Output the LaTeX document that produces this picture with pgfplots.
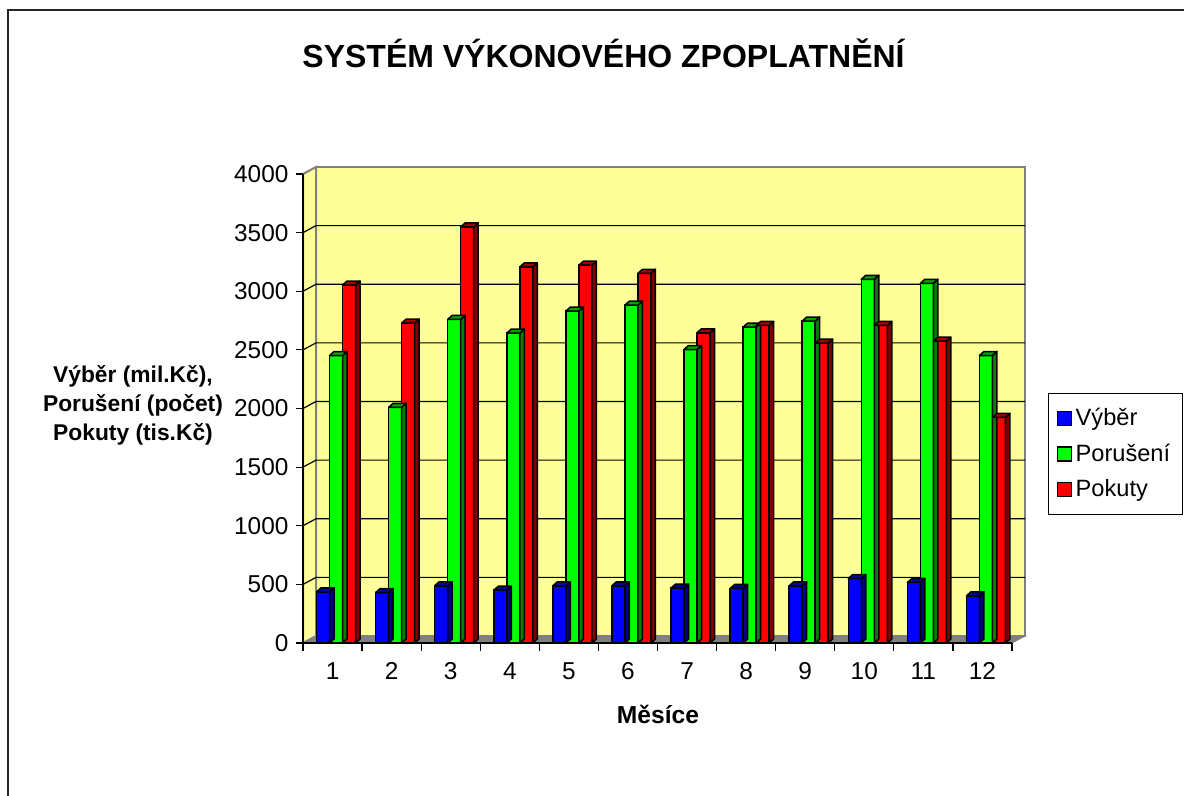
\documentclass[border=0pt]{standalone}
\usepackage{pgfplots}
\usepackage{pgfplotstable}
\pgfplotsset{compat=1.18}
\usepackage{fontspec}
\setmainfont{Liberation Sans}
\definecolor{wall}{HTML}{FFFF99}
\definecolor{edge}{HTML}{808080}
\definecolor{cB}{HTML}{0000FF}
\definecolor{cG}{HTML}{00FF00}
\definecolor{cR}{HTML}{FF0000}
\definecolor{sB}{HTML}{000080}
\definecolor{sG}{HTML}{008000}
\definecolor{sR}{HTML}{800000}
\definecolor{tB}{HTML}{0000A0}
\definecolor{tG}{HTML}{00A000}
\definecolor{tR}{HTML}{A00000}

\newcommand\decomark[4]{%
 \pgfdeclareplotmark{#1}{%
  \pgfmathsetmacro\Hh{\rawy*0.058625}%
  \pgfsetlinewidth{0.75pt}%
  \pgfsetroundjoin
  \pgfsetstrokecolor{black}%
  \pgfsetfillcolor{#4}%
  \pgfpathmoveto{\pgfpoint{#2pt+3.25pt}{0pt}}%
  \pgfpathlineto{\pgfpoint{#2pt+5.5pt}{2pt}}%
  \pgfpathlineto{\pgfpoint{#2pt+5.5pt}{2pt-\Hh pt}}%
  \pgfpathlineto{\pgfpoint{#2pt+3.25pt}{-\Hh pt}}%
  \pgfpathclose
  \pgfusepath{fill,stroke}%
  \pgfsetfillcolor{#3}%
  \pgfpathmoveto{\pgfpoint{#2pt-3.25pt}{0pt}}%
  \pgfpathlineto{\pgfpoint{#2pt+3.25pt}{0pt}}%
  \pgfpathlineto{\pgfpoint{#2pt+5.5pt}{2pt}}%
  \pgfpathlineto{\pgfpoint{#2pt-1pt}{2pt}}%
  \pgfpathclose
  \pgfusepath{fill,stroke}%
 }}
\decomark{decoB}{-4.75}{tB}{sB}
\decomark{decoG}{1.75}{tG}{sG}
\decomark{decoR}{8.25}{tR}{sR}

\pgfplotsset{
  mylegend/.style={legend image code/.code={\draw[##1, draw=black, line width=0.6pt] (0pt,-3.5pt) rectangle (7pt,3.5pt);}},
}

\pgfplotstableread{
m vyb por pok
1 436 2452 3053
2 430 2010 2728
3 488 2760 3549
4 450 2643 3207
5 488 2831 3222
6 488 2882 3153
7 468 2503 2646
8 465 2694 2708
9 488 2746 2557
10 550 3102 2708
11 516 3068 2574
12 402 2452 1924
}\data

\begin{document}
\begin{tikzpicture}
\path (0,0) rectangle (592pt,-398pt);
\draw[overlay, line width=1pt, black!85] (4pt,-420pt) -- (4pt,-5.25pt) -- (620pt,-5.25pt);
\node[anchor=base, font=\bfseries\fontsize{16}{18}\selectfont] at (301.75pt,-34pt) {SYSTÉM VÝKONOVÉHO ZPOPLATNĚNÍ};
\node[align=center, font=\bfseries\fontsize{11.4}{14.5}\selectfont] at (66.5pt,-202.5pt) {Výběr (mil.Kč),\\Porušení (počet)\\Pokuty (tis.Kč)};
\node[anchor=base, font=\bfseries\fontsize{12.3}{14}\selectfont] at (329pt,-361.5pt) {Měsíce};
\begin{axis}[
  set layers,
  at={(151.5pt,-321.5pt)}, anchor=south west,
  scale only axis, width=354.5pt, height=234.5pt,
  xmin=0.5, xmax=12.5, ymin=0, ymax=4000,
  clip=false,
  axis x line*=bottom, axis y line*=left,
  axis line style={black, line width=0.6pt},
  tick style={black, line width=0.6pt},
  tick align=outside,
  major tick length=3.75pt,
  ytick={0,500,...,4000},
  xtick={0.5,1.5,...,12.5},
  x tick label as interval,
  xticklabels={1,2,3,4,5,6,7,8,9,10,11,12},
  xticklabel style={yshift=-2.5pt},
  scaled y ticks=false,
  /pgf/number format/1000 sep={},
  /pgf/number format/assume math mode=true,
  tick label style={font=\fontsize{12.2}{14}\selectfont},
  legend style={at={(1.0508,0.533)}, anchor=north west, draw=black, line width=0.5pt,
    font=\fontsize{11.8}{13}\selectfont, row sep=3.5pt, inner xsep=4pt, inner ysep=5.5pt},
  legend cell align=left,
]
\begin{pgfonlayer}{axis background}
\filldraw[fill=wall, draw=edge, line width=1pt] ([shift={(6.5pt,3.5pt)}]axis cs:0.5,0) rectangle ([shift={(6.5pt,3.5pt)}]axis cs:12.5,4000);
\filldraw[fill=wall, draw=edge, line width=1pt] (axis cs:0.5,0) -- (axis cs:0.5,4000) -- ([shift={(6.5pt,3.5pt)}]axis cs:0.5,4000) -- ([shift={(6.5pt,3.5pt)}]axis cs:0.5,0) -- cycle;
\pgfplotsinvokeforeach{500,1000,1500,2000,2500,3000,3500}{
  \draw[black, line width=0.6pt] (axis cs:0.5,#1) -- ([shift={(6.5pt,3.5pt)}]axis cs:0.5,#1) -- ([shift={(6.5pt,3.5pt)}]axis cs:12.5,#1);
}
\filldraw[fill=edge, draw=edge, line width=0.5pt] (axis cs:0.5,0) -- (axis cs:12.5,0) -- ([shift={(6.5pt,3.5pt)}]axis cs:12.5,0) -- ([shift={(6.5pt,3.5pt)}]axis cs:0.5,0) -- cycle;
\end{pgfonlayer}

\addplot[ybar, bar width=6.5pt, bar shift=-4.75pt, fill=cB, draw=black, line width=0.75pt, mylegend] table[x=m,y=vyb]{\data};
\addlegendentry{Výběr}
\addplot[forget plot, only marks, mark=decoB, visualization depends on={rawy \as \rawy}] table[x=m,y=vyb]{\data};
\addplot[ybar, bar width=6.5pt, bar shift=1.75pt, fill=cG, draw=black, line width=0.75pt, mylegend] table[x=m,y=por]{\data};
\addlegendentry{Porušení}
\addplot[forget plot, only marks, mark=decoG, visualization depends on={rawy \as \rawy}] table[x=m,y=por]{\data};
\addplot[ybar, bar width=6.5pt, bar shift=8.25pt, fill=cR, draw=black, line width=0.75pt, mylegend] table[x=m,y=pok]{\data};
\addlegendentry{Pokuty}
\addplot[forget plot, only marks, mark=decoR, visualization depends on={rawy \as \rawy}] table[x=m,y=pok]{\data};
\end{axis}
\end{tikzpicture}
\end{document}
